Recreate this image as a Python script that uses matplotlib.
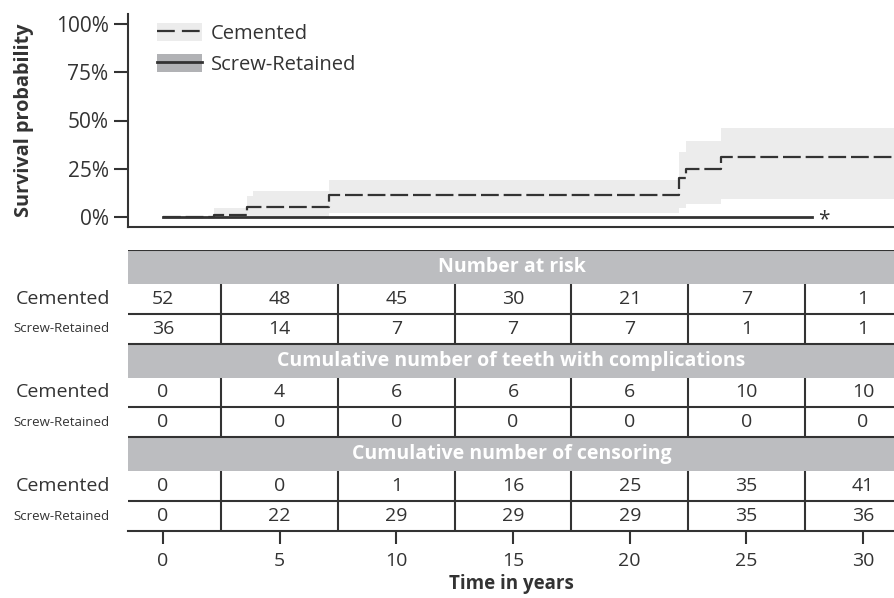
import matplotlib
matplotlib.use("Agg")
import matplotlib.pyplot as plt
from matplotlib.patches import Patch
from matplotlib.lines import Line2D
from matplotlib.legend_handler import HandlerTuple
from matplotlib.ticker import PercentFormatter
import matplotlib.transforms as mtransforms

plt.rcParams['font.family'] = ['Open Sans', 'DejaVu Sans']

# ---------------- data ----------------
# Cemented step curve (fraction)
cem_t = [0, 2.2, 3.6, 7.12, 22.1, 22.4, 23.9, 32.0]
cem_est = [0.0, 0.012, 0.054, 0.114, 0.200, 0.247, 0.309, 0.309]
# Cemented confidence band
band_t = [2.2, 3.6, 3.85, 7.12, 22.1, 22.4, 23.9, 32.0]
band_lo = [0.0, 0.0, 0.0, 0.019, 0.045, 0.066, 0.095, 0.095]
band_hi = [0.045, 0.109, 0.135, 0.192, 0.337, 0.394, 0.461, 0.461]
# Screw-retained curve
scr_t = [0, 27.8]
scr_est = [0.0, 0.0]
scr_censor_t = 28.3

time_ticks = [0, 5, 10, 15, 20, 25, 30]
groups = ["Cemented", "Screw-Retained"]
table_titles = ["Number at risk",
                "Cumulative number of teeth with complications",
                "Cumulative number of censoring"]
at_risk_cem = [52, 48, 45, 30, 21, 7, 1]
at_risk_scr = [36, 14, 7, 7, 7, 1, 1]
compl_cem = [0, 4, 6, 6, 6, 10, 10]
compl_scr = [0, 0, 0, 0, 0, 0, 0]
cens_cem = [0, 0, 1, 16, 25, 35, 41]
cens_scr = [0, 22, 29, 29, 29, 35, 36]

# ---------------- style ----------------
DARK = "#333333"
TXT = "#333333"
BAND = "#ececec"
BAND2 = "#b1b2b5"
HEAD = "#bcbdc0"
W, H = 895, 598
XL = (-1.5, 31.37)
FS = 14

fig = plt.figure(figsize=(W / 100, H / 100), dpi=100)

# ---------------- KM plot ----------------
ax = fig.add_axes([128 / W, (H - 227) / H, (W - 128) / W, (227 - 14) / H])
ax.set_xlim(*XL)
ax.set_ylim(-0.0518, 1.0518)
ax.fill_between(band_t, band_lo, band_hi, step='post', color=BAND, lw=0)
ax.step(cem_t, cem_est, where='post', color=DARK, lw=1.6, ls=(0, (8, 2.2)))
ax.step(scr_t, scr_est, where='post', color=DARK, lw=2.0)
ax.text(scr_censor_t, -0.012, "*", ha='center', va='center', fontsize=15, color=DARK)

for s in ['top', 'right']:
    ax.spines[s].set_visible(False)
for s in ['left', 'bottom']:
    ax.spines[s].set_linewidth(1.5)
    ax.spines[s].set_color(DARK)
ax.set_xticks([])
ax.set_yticks([0, 0.25, 0.5, 0.75, 1.0])
ax.yaxis.set_major_formatter(PercentFormatter(1.0, decimals=0))
ax.tick_params(axis='y', length=10, width=1.5, color=DARK, labelsize=15,
               labelcolor=TXT, pad=4)
ax.set_ylabel("Survival probability", fontsize=14.3, fontweight='bold', color=TXT)
ax.yaxis.set_label_coords((34 - 128) / 767, 0.5)

h1 = (Patch(facecolor=BAND, edgecolor='none'),
      Line2D([], [], color=DARK, lw=1.6, ls=(0, (8, 3.2))))
h2 = (Patch(facecolor=BAND2, edgecolor='none'),
      Line2D([], [], color=DARK, lw=2.0))
leg = ax.legend([h1, h2], groups, handler_map={tuple: HandlerTuple(ndivide=1, pad=0)},
                loc='upper left', bbox_to_anchor=(23 / 767, 1.0 - 3 / 213), frameon=False,
                fontsize=14.5, handlelength=2.25, handleheight=1.0,
                handletextpad=0.42, labelspacing=0.48, borderpad=0.3,
                borderaxespad=0)
for t in leg.get_texts():
    t.set_color(TXT)

# ---------------- risk table ----------------
HH, RH = 34, 30
total = 3 * (HH + 2 * RH)
tab = fig.add_axes([128 / W, (H - 531) / H, (W - 128) / W, (531 - 250) / H])
tab.set_xlim(*XL)
tab.set_ylim(total, 0)
for s in ['top', 'right', 'left']:
    tab.spines[s].set_visible(False)
tab.spines['bottom'].set_linewidth(1.5)
tab.spines['bottom'].set_color(DARK)
tab.set_yticks([])
tab.set_xticks(time_ticks)
tab.tick_params(axis='x', length=9, width=1.5, color=DARK, labelsize=FS,
                labelcolor=TXT, pad=6)
tab.set_xlabel("Time in years", fontsize=13.5, fontweight='bold', color=TXT, labelpad=3)

blend = mtransforms.blended_transform_factory(tab.transAxes, tab.transData)
mids = [(a + b) / 2 for a, b in zip(time_ticks[:-1], time_ticks[1:])]
blocks = [(at_risk_cem, at_risk_scr), (compl_cem, compl_scr), (cens_cem, cens_scr)]
for i, (title, (rc, rs)) in enumerate(zip(table_titles, blocks)):
    top = i * (HH + 2 * RH)
    tab.axhspan(top, top + HH, color=HEAD, lw=0)
    tab.axhline(top, color=DARK, lw=1.5)
    tab.axhline(top + HH + RH, color=DARK, lw=1.5)
    tab.text(0.5, top + HH / 2, title, transform=blend, ha='center', va='center',
             color='white', fontweight='bold', fontsize=14)
    tab.vlines(mids, top + HH, top + HH + 2 * RH, color=DARK, lw=1.5)
    for k, (vals, name) in enumerate(zip([rc, rs], groups)):
        yc = top + HH + RH * k + RH / 2
        for tt, v in zip(time_ticks, vals):
            tab.text(tt, yc, str(v), ha='center', va='center', fontsize=FS, color=TXT)
        tab.text(-18 / 767, yc, name, transform=blend, ha='right', va='center',
                 fontsize=FS if k == 0 else 9.5, color=TXT)

fig.savefig("out.png", dpi=100)
